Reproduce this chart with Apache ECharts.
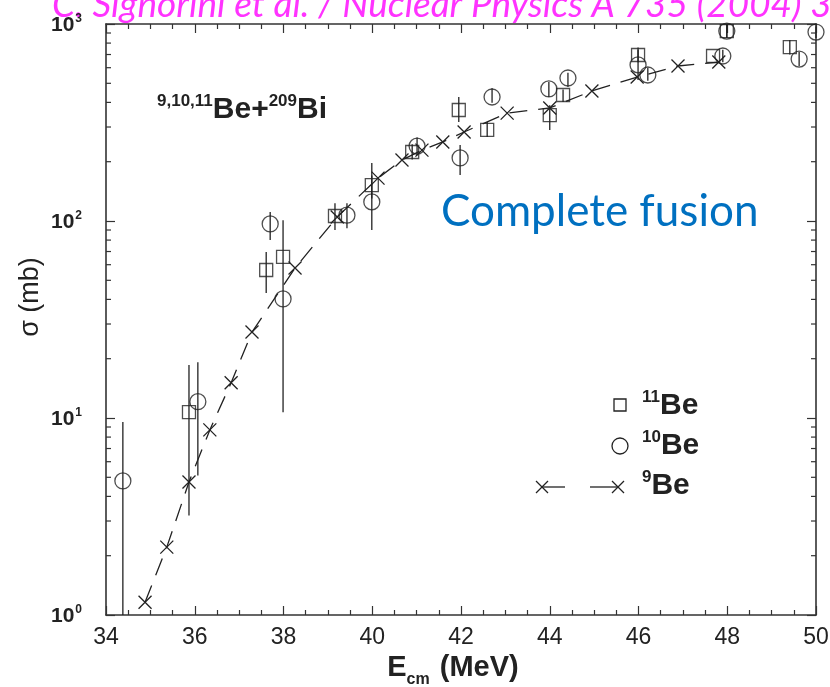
<!DOCTYPE html>
<html>
<head>
<meta charset="utf-8">
<script src="https://cdn.jsdelivr.net/npm/echarts@6/dist/echarts.min.js"></script>
<style>
  html, body { margin: 0; padding: 0; background: #fff; }
  #chart { width: 830px; height: 687px; }
</style>
</head>
<body>
<div id="chart"></div>
<script>
// Fusion cross sections, sigma (mb) versus E_cm (MeV)

// 9Be: measured points joined by a dashed line
const energy9Be = [34.88, 35.37, 35.87, 36.34, 36.82, 37.29, 38.26, 39.21, 40.13, 40.67, 41.12, 41.59, 42.07, 43.04, 44.0, 44.95, 45.97, 46.89, 47.81];
const sigma9Be  = [1.16, 2.21, 4.73, 8.7, 15.1, 27.3, 57.7, 104.8, 165, 204, 229, 252, 283, 353, 375, 457, 538, 612, 641];

// 11Be: values with lower / upper error limits (null = no bar)
const energy11Be = [35.87, 37.61, 37.99, 39.16, 39.99, 40.9, 41.95, 42.59, 44.0, 44.3, 45.99, 47.68, 47.99, 49.41];
const sigma11Be  = [10.7, 56.4, 65.7, 106, 152, 224, 366, 290, 345, 436, 696, 688, 921, 764];
const low11Be    = [3.2, 43.1, null, 90, 130, 205, 318, 267, 290, 402, 640, null, 850, 700];
const high11Be   = [18.6, 69.6, null, 123, 197, 245, 426, 318, 387, 465, 760, null, 1000, 830];

// 10Be: values with lower / upper error limits
const energy10Be = [34.38, 36.07, 37.7, 37.99, 39.43, 39.99, 41.01, 41.98, 42.7, 43.98, 44.41, 45.99, 46.21, 47.9, 47.99, 49.62, 50.0];
const sigma10Be  = [4.79, 12.1, 96.6, 40.2, 107, 125, 240, 209, 426, 468, 532, 620, 551, 688, 921, 664, 910];
const low10Be    = [0.3, 5.1, 80, 10.7, 92, 90, 215, 171, 398, 426, 480, 520, 515, 640, 850, 610, 850];
const high10Be   = [9.55, 19.2, 111, 101, 123, 170, 265, 243, 472, 507, 565, 740, 600, 740, 1000, 720, 970];

// axis ranges and tick values
const xMin = 34, xMax = 50, xStep = 2;
const yMin = 1, yMax = 1000;
const yMinorTicks = [];
for (let d = 1; d < yMax; d *= 10) {
  for (let k = 2; k <= 9; k++) yMinorTicks.push(k * d);
}

const INK = '#222';
const MARK_W = 1.3;
const BASE_FONT = '"Liberation Sans", Arial, Helvetica, sans-serif';

const zip = (a, b) => a.map((v, i) => [v, b[i]]);
const errRows = (e, lo, hi) => e.map((v, i) => [v, lo[i], hi[i]]).filter(r => r[1] != null);

function errorBar(params, api) {
  const x = api.value(0);
  const top = api.coord([x, api.value(2)]);
  const bot = api.coord([x, api.value(1)]);
  const cs = params.coordSys;
  const yBottom = Math.min(bot[1], cs.y + cs.height);
  const yTop = Math.max(top[1], cs.y);
  return {
    type: 'line',
    shape: { x1: top[0], y1: yTop, x2: top[0], y2: yBottom },
    style: { stroke: INK, lineWidth: MARK_W }
  };
}

function minorLogTick(params, api) {
  const l = api.coord([xMin, api.value(1)]);
  const r = api.coord([xMax, api.value(1)]);
  const len = 5;
  return {
    type: 'group',
    children: [
      { type: 'line', shape: { x1: l[0], y1: l[1], x2: l[0] + len, y2: l[1] }, style: { stroke: '#333', lineWidth: 1.2 } },
      { type: 'line', shape: { x1: r[0] - len, y1: r[1], x2: r[0], y2: r[1] }, style: { stroke: '#333', lineWidth: 1.2 } }
    ]
  };
}

const frameLine = { show: true, onZero: false, lineStyle: { color: '#333', width: 1.6 } };

const xAxisBase = {
  type: 'value', min: xMin, max: xMax, interval: xStep,
  axisLine: frameLine,
  axisTick: { show: true, inside: true, length: 9, lineStyle: { color: '#333', width: 1.2 } },
  minorTick: { show: true, splitNumber: 4, length: 5, lineStyle: { color: '#333', width: 1.2 } },
  splitLine: { show: false }, minorSplitLine: { show: false }
};

const yAxisBase = {
  type: 'log', logBase: 10, min: yMin, max: yMax, splitNumber: 3,
  axisLine: frameLine,
  axisTick: { show: true, inside: true, length: 9, lineStyle: { color: '#333', width: 1.2 } },
  splitLine: { show: false }
};

const supRich = {
  b: { fontSize: 30, fontWeight: 'bold', fill: INK, fontFamily: BASE_FONT, lineHeight: 32, verticalAlign: 'bottom' },
  s: { fontSize: 17, fontWeight: 'bold', fill: INK, fontFamily: BASE_FONT, lineHeight: 18, verticalAlign: 'top' }
};

const chart = echarts.init(document.getElementById('chart'), null, { renderer: 'canvas' });

chart.setOption({
  animation: false,
  backgroundColor: '#fff',
  grid: { left: 106, right: 14, top: 24, bottom: 72, containLabel: false, outerBoundsMode: 'none' },
  xAxis: [
    Object.assign({}, xAxisBase, {
      position: 'bottom',
      axisLabel: { show: true, fontSize: 23, margin: 11, color: INK, fontFamily: BASE_FONT },
      name: '{b|E}{s|cm}{b| (MeV)}',
      nameLocation: 'middle',
      nameGap: 27,
      nameTextStyle: {
        padding: [0, 16, 0, 0],
        rich: {
          b: { fontSize: 29, fontWeight: 'bold', color: INK, fontFamily: BASE_FONT, verticalAlign: 'bottom', lineHeight: 32 },
          s: { fontSize: 16, fontWeight: 'bold', color: INK, fontFamily: BASE_FONT, verticalAlign: 'bottom', lineHeight: 16, padding: [0, 2, -5, 0] }
        }
      }
    }),
    Object.assign({}, xAxisBase, { position: 'top', axisLabel: { show: false } })
  ],
  yAxis: [
    Object.assign({}, yAxisBase, {
      position: 'left',
      axisLabel: {
        show: true, margin: 24,
        formatter: v => '{m|10}{e|' + Math.round(Math.log10(v)) + '}',
        rich: {
          m: { fontSize: 21, fontWeight: 'bold', color: INK, fontFamily: BASE_FONT, verticalAlign: 'bottom', lineHeight: 23 },
          e: { fontSize: 12, fontWeight: 'bold', color: INK, fontFamily: BASE_FONT, verticalAlign: 'top', lineHeight: 12, padding: [0, 0, 9, 1] }
        }
      }
    }),
    Object.assign({}, yAxisBase, { position: 'right', axisLabel: { show: false } })
  ],
  graphic: [
    {
      type: 'text', left: 52, top: -13, silent: true,
      style: {
        text: 'C. Signorini et al. / Nuclear Physics A 735 (2004) 329',
        fill: '#FF33FF', fontSize: 37, fontStyle: 'italic',
        fontFamily: 'Lato, "Open Sans", sans-serif'
      }
    },
    {
      type: 'text', left: 441, top: 190, silent: true,
      style: {
        text: 'Complete fusion',
        fill: '#0070C0', fontSize: 44,
        fontFamily: 'Lato, "Open Sans", sans-serif'
      }
    },
    {
      type: 'text', left: 157, top: 93, silent: true,
      style: { text: '{s|9,10,11}{b|Be+}{s|209}{b|Bi}', rich: supRich }
    },
    {
      type: 'text', x: 31, y: 297, rotation: Math.PI / 2, silent: true,
      style: {
        text: 'σ (mb)', fill: INK, fontSize: 27, fontFamily: BASE_FONT,
        align: 'center', verticalAlign: 'middle'
      }
    },
    // legend
    { type: 'rect', silent: true, shape: { x: 614, y: 399, width: 12, height: 12 }, style: { fill: 'none', stroke: INK, lineWidth: MARK_W } },
    { type: 'circle', silent: true, shape: { cx: 620, cy: 446, r: 8 }, style: { fill: 'none', stroke: INK, lineWidth: MARK_W } },
    { type: 'line', silent: true, shape: { x1: 536, y1: 481, x2: 548, y2: 493 }, style: { stroke: INK, lineWidth: MARK_W } },
    { type: 'line', silent: true, shape: { x1: 536, y1: 493, x2: 548, y2: 481 }, style: { stroke: INK, lineWidth: MARK_W } },
    { type: 'line', silent: true, shape: { x1: 542, y1: 487, x2: 565, y2: 487 }, style: { stroke: INK, lineWidth: MARK_W } },
    { type: 'line', silent: true, shape: { x1: 590, y1: 487, x2: 618, y2: 487 }, style: { stroke: INK, lineWidth: MARK_W } },
    { type: 'line', silent: true, shape: { x1: 612, y1: 481, x2: 624, y2: 493 }, style: { stroke: INK, lineWidth: MARK_W } },
    { type: 'line', silent: true, shape: { x1: 612, y1: 493, x2: 624, y2: 481 }, style: { stroke: INK, lineWidth: MARK_W } },
    { type: 'text', left: 642, top: 389, silent: true, style: { text: '{s|11}{b|Be}', rich: supRich } },
    { type: 'text', left: 642, top: 429, silent: true, style: { text: '{s|10}{b|Be}', rich: supRich } },
    { type: 'text', left: 642, top: 469, silent: true, style: { text: '{s|9}{b|Be}', rich: supRich } }
  ],
  series: [
    {
      name: 'minor log ticks', type: 'custom', renderItem: minorLogTick, silent: true,
      data: yMinorTicks.map(v => [xMin, v]), encode: { x: 0, y: 1 }, z: 1
    },
    {
      name: '11Be error', type: 'custom', renderItem: errorBar, silent: true,
      data: errRows(energy11Be, low11Be, high11Be), encode: { x: 0, y: [1, 2] }, z: 2
    },
    {
      name: '10Be error', type: 'custom', renderItem: errorBar, silent: true,
      data: errRows(energy10Be, low10Be, high10Be), encode: { x: 0, y: [1, 2] }, z: 2
    },
    {
      name: '9Be', type: 'line', data: zip(energy9Be, sigma9Be),
      symbol: 'path://M0 0L10 10M10 0L0 10', symbolSize: 13,
      itemStyle: { color: 'rgba(0,0,0,0)', borderColor: INK, borderWidth: MARK_W },
      lineStyle: { color: INK, width: MARK_W, type: [18, 11] },
      z: 3
    },
    {
      name: '11Be', type: 'scatter', data: zip(energy11Be, sigma11Be),
      symbol: 'rect', symbolSize: 13,
      itemStyle: { color: 'rgba(0,0,0,0)', borderColor: INK, borderWidth: MARK_W },
      z: 4
    },
    {
      name: '10Be', type: 'scatter', data: zip(energy10Be, sigma10Be),
      symbol: 'circle', symbolSize: 16,
      itemStyle: { color: 'rgba(0,0,0,0)', borderColor: INK, borderWidth: MARK_W },
      z: 4
    }
  ]
});
</script>
</body>
</html>
